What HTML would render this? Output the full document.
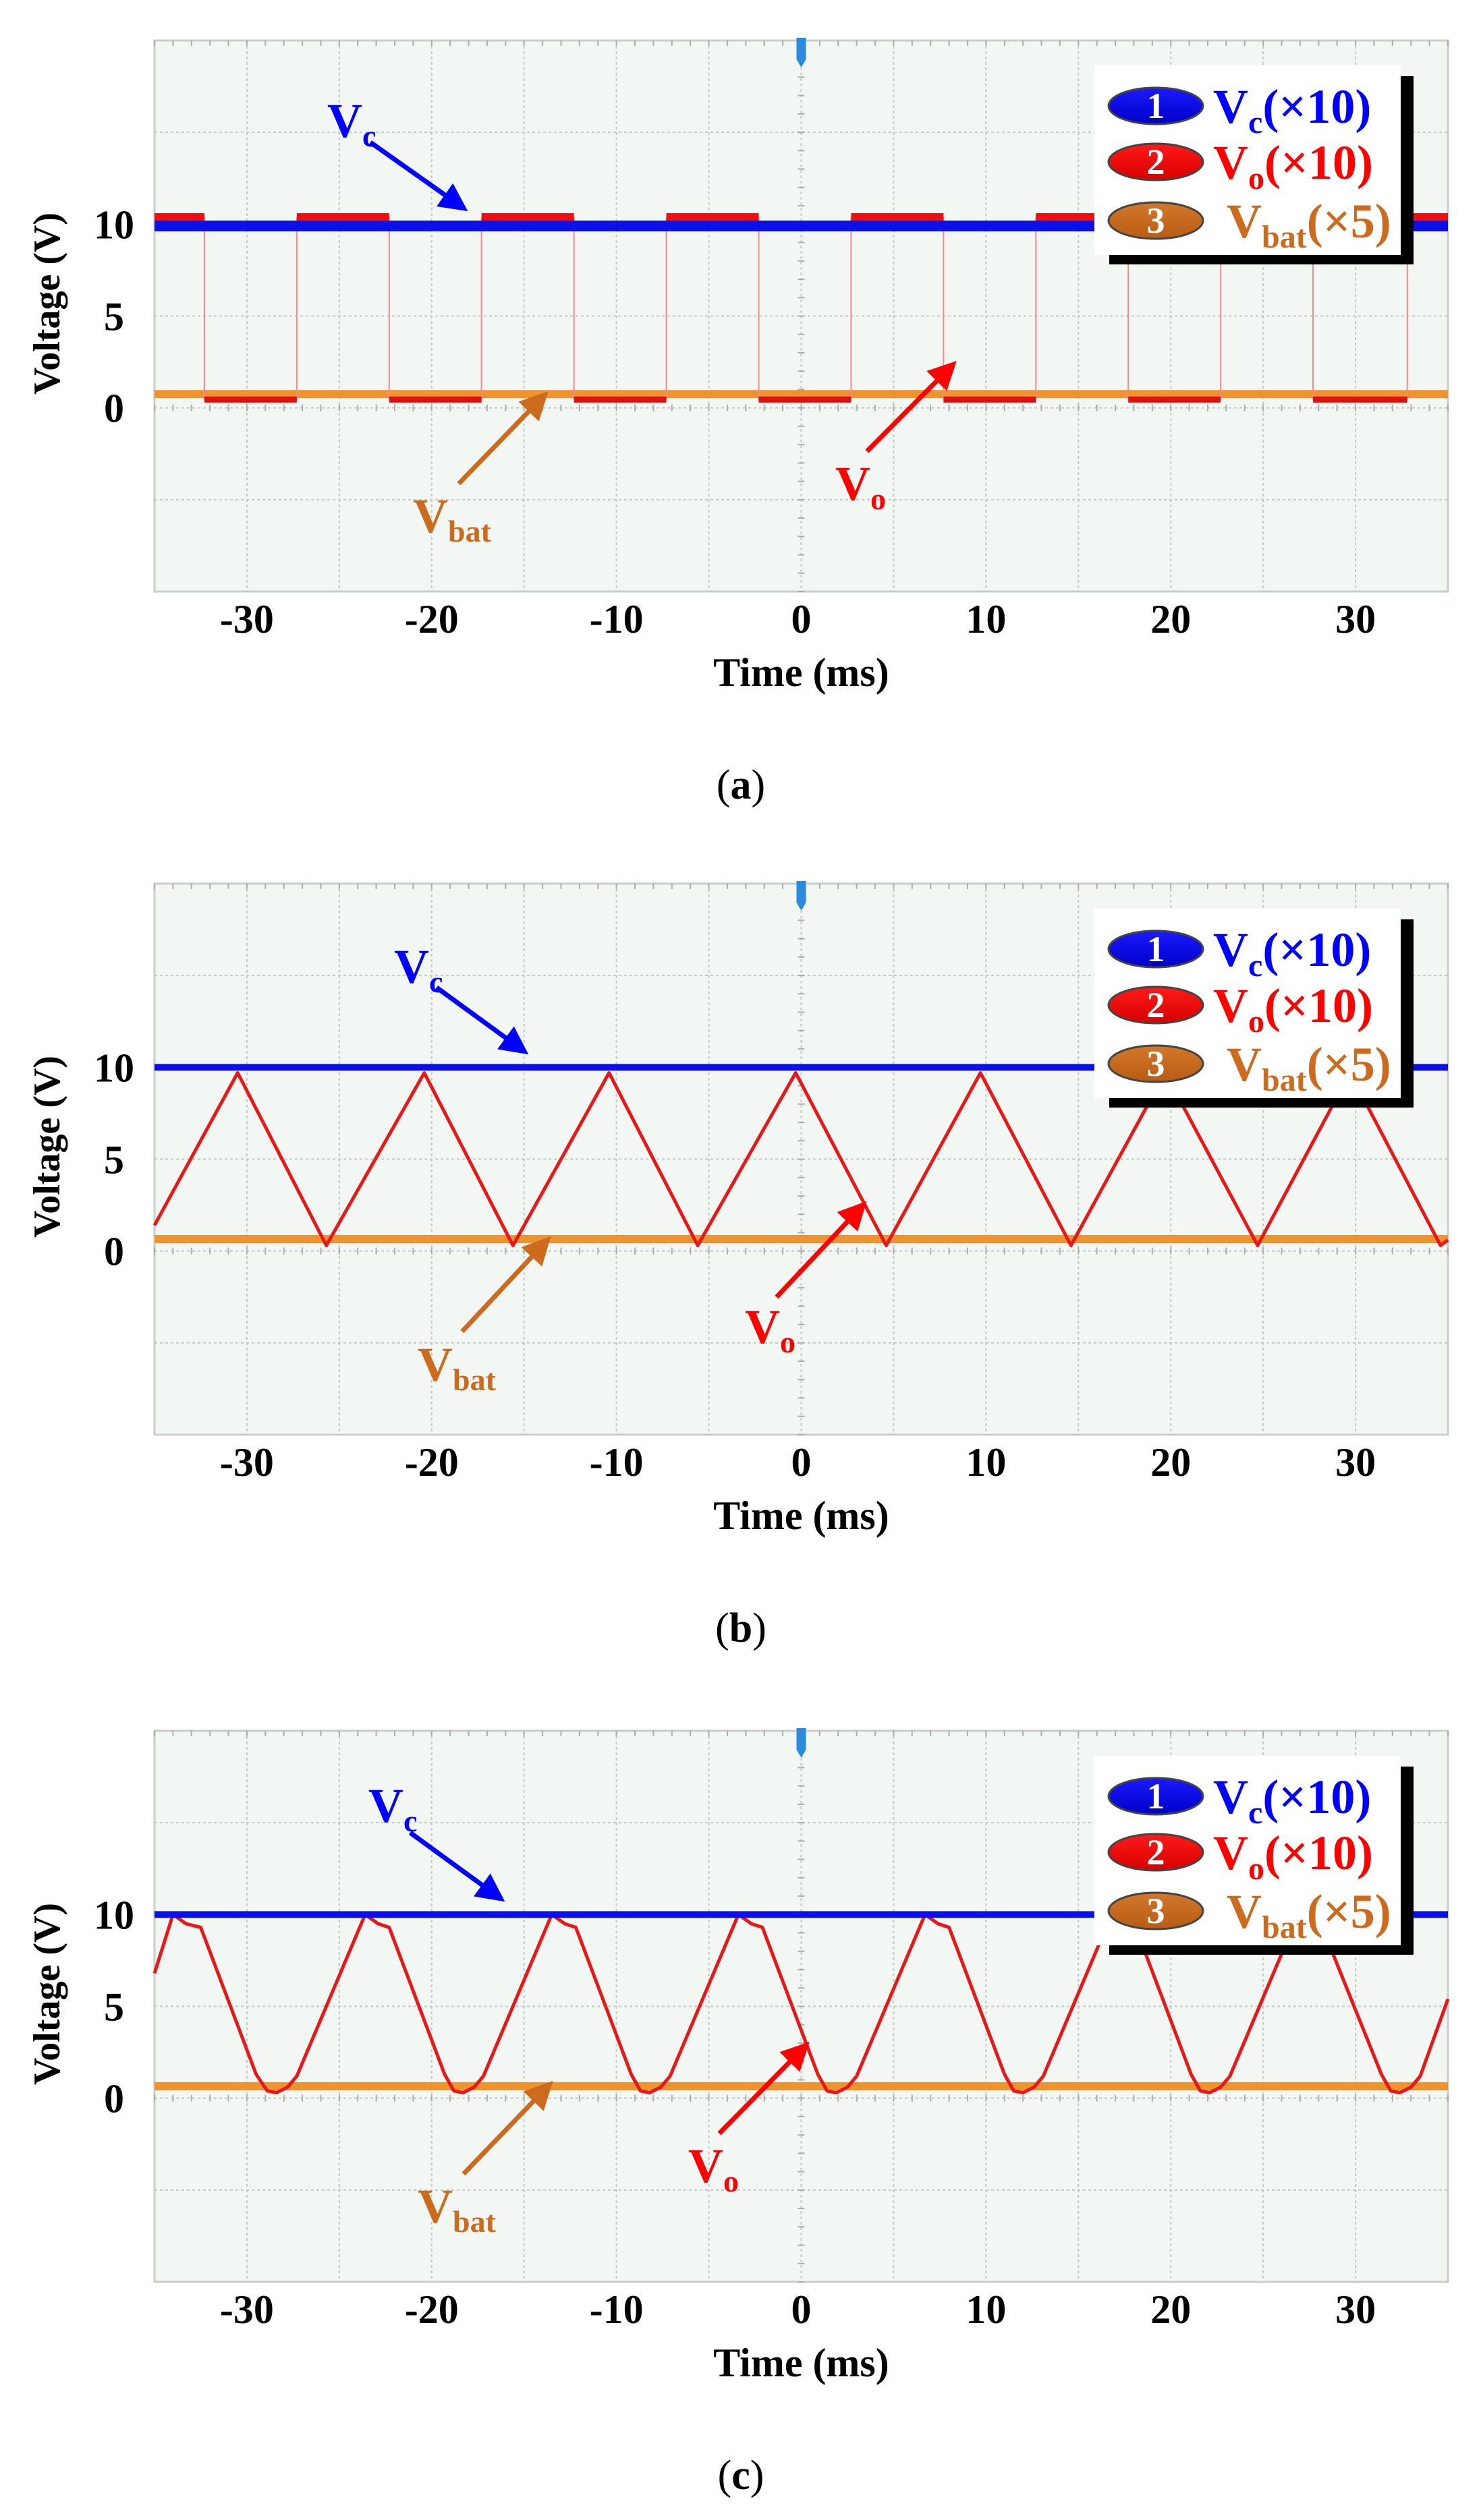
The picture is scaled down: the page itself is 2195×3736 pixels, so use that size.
<!DOCTYPE html>
<html><head><meta charset="utf-8">
<style>
html,body{margin:0;padding:0;background:#fff;}
svg{display:block;}
text{font-family:"Liberation Serif","Times New Roman",serif;}
</style></head>
<body>
<svg id="fig" width="2195" height="3736" viewBox="0 0 2195 3736" xmlns="http://www.w3.org/2000/svg">
<defs>
<marker id="ahB" markerWidth="6" markerHeight="6" refX="4" refY="3" orient="auto" markerUnits="strokeWidth"><path d="M0,0 L6,3 L0,6 z" fill="#0000ff"/></marker>
<marker id="ahR" markerWidth="6" markerHeight="6" refX="4" refY="3" orient="auto" markerUnits="strokeWidth"><path d="M0,0 L6,3 L0,6 z" fill="#ff0000"/></marker>
<marker id="ahO" markerWidth="6" markerHeight="6" refX="4" refY="3" orient="auto" markerUnits="strokeWidth"><path d="M0,0 L6,3 L0,6 z" fill="#cc6a1e"/></marker>
<linearGradient id="gB" x1="0" y1="0" x2="0" y2="1"><stop offset="0" stop-color="#1a1aff"/><stop offset="1" stop-color="#0000c8"/></linearGradient>
<linearGradient id="gR" x1="0" y1="0" x2="0" y2="1"><stop offset="0" stop-color="#ff1a1a"/><stop offset="1" stop-color="#d80000"/></linearGradient>
<linearGradient id="gO" x1="0" y1="0" x2="0" y2="1"><stop offset="0" stop-color="#d2782a"/><stop offset="1" stop-color="#b85c14"/></linearGradient>
</defs>
</svg>
<script>
// ---- shared axis data ----
const xTicks = [-30,-20,-10,0,10,20,30];
const yTicks = [0,5,10];
const panelLabels = ['(a)','(b)','(c)'];
// DC levels per panel
const vcLevel = [9.9, 10.0, 10.0];
const vbatLevel = [0.75, 0.65, 0.65];
// Panel (a): square-wave Vo
const aFall = [-32.3,-22.3,-12.3,-2.3,7.7,17.7,27.7];
const aRise = [-27.3,-17.3,-7.3,2.7,12.7,22.7,32.8];
const aHigh = 10.4;
const aLow = 0.45;
// Panel (b): triangular Vo vertices
const bTime = [-35.1,-30.5,-25.7,-20.4,-15.6,-10.4,-5.6,-0.3,4.6,9.7,14.6,19.7,24.7,29.7,34.6,35.0];
const bVolt = [1.4,9.7,0.3,9.7,0.3,9.7,0.3,9.7,0.3,9.7,0.3,9.7,0.3,9.7,0.3,0.6];
// Panel (c): clipped sinusoid-like Vo
const cTime = [-35.1,-34.0,-33.3,-32.5,-29.5,-28.9,-28.4,-27.8,-27.3,-23.6,-22.9,-22.3,-19.3,-18.8,-18.3,-17.7,-17.2,-13.5,-12.8,-12.2,-9.2,-8.7,-8.2,-7.6,-7.1,-3.4,-2.7,-2.1,0.9,1.4,1.9,2.5,3.0,6.7,7.4,8.0,11.0,11.5,12.0,12.6,13.1,16.8,17.5,18.1,21.1,21.6,22.1,22.7,23.2,26.9,27.6,28.2,31.4,31.9,32.4,33.0,33.5,35.0];
const cVolt = [6.8,10.0,9.5,9.3,1.3,0.4,0.3,0.6,1.2,10.0,9.5,9.3,1.3,0.4,0.3,0.6,1.2,10.0,9.5,9.3,1.3,0.4,0.3,0.6,1.2,10.0,9.5,9.3,1.3,0.4,0.3,0.6,1.2,10.0,9.5,9.3,1.3,0.4,0.3,0.6,1.2,10.0,9.5,9.3,1.3,0.4,0.3,0.6,1.2,10.0,9.5,9.3,1.3,0.4,0.3,0.6,1.2,5.4];

const NS='http://www.w3.org/2000/svg';
const svg=document.getElementById('fig');
const X0=229, X1=2146, XMIN=-35, XMAX=35;
const PH=817, VMIN=-10, VMAX=20;
const tops=[60,1310,2566];
function mk(tag,attrs,parent){const e=document.createElementNS(NS,tag);for(const k in attrs)e.setAttribute(k,attrs[k]);(parent||svg).appendChild(e);return e;}
function sx(t){return X0+(t-XMIN)/(XMAX-XMIN)*(X1-X0);}

const annot=[
 {vc:[485,203,549,211,682,305],vb:[612,789,680,717,803,590],vo:[1238,741,1285,669,1408,545]},
 {vc:[584,1457,647,1464,772,1555],vb:[619,2047,685,1974,807,1843],vo:[1104,1991,1151,1923,1275,1791]},
 {vc:[546,2701,608,2717,737,2811],vb:[619,3295,687,3223,810,3095],vo:[1020,3235,1066,3163,1190,3037]}
];

for(let p=0;p<3;p++){
  const T=tops[p];
  const sy=v=>T+(VMAX-v)/(VMAX-VMIN)*PH;
  const g=mk('g',{});
  
  
  const bg=mk('rect',{x:X0,y:T,width:X1-X0,height:PH,fill:'#f3f7f3',stroke:'#c8cec8','stroke-width':3},g);
  
  
  for(let t=-30;t<=30;t+=5){
    const l=mk('line',{x1:sx(t),x2:sx(t),y1:T,y2:T+PH,stroke:'#c2c8c2','stroke-width':2,'stroke-dasharray':'4 4'},g);
    
    
  }
  for(let k=1;k<6;k++){
    const y=T+k*PH/6;
    const l=mk('line',{x1:X0,x2:X1,y1:y,y2:y,stroke:'#c2c8c2','stroke-width':2,'stroke-dasharray':'4 4'},g);
    
    
  }
  for(let t=-35;t<=35;t+=1){
    mk('line',{x1:sx(t),x2:sx(t),y1:sy(0)-5,y2:sy(0)+5,stroke:'#a8aea8','stroke-width':2},g);
    mk('line',{x1:sx(t),x2:sx(t),y1:T,y2:T+8,stroke:'#a8aea8','stroke-width':2},g);
  }
  for(let v=-10;v<=20;v+=1){
    mk('line',{x1:sx(0)-5,x2:sx(0)+5,y1:sy(v),y2:sy(v),stroke:'#a8aea8','stroke-width':2},g);
  }
  const trig=mk('path',{d:`M${sx(0)-7},${T-4} L${sx(0)+7},${T-4} L${sx(0)+7},${T+28} L${sx(0)},${T+40} L${sx(0)-7},${T+28} z`,fill:'#2a8ae0'},g);
  
  

  const vb=mk('line',{x1:X0,x2:X1,y1:sy(vbatLevel[p]),y2:sy(vbatLevel[p]),stroke:'#f0922e','stroke-width':12},g);
  
  

  if(p===0){
    let d='';
    for(let i=0;i<aFall.length;i++){
      const x=sx(aFall[i]);
      d+=`M${x},${sy(aHigh)} L${x},${sy(aLow)} `;
      const x2=sx(aRise[i]);
      d+=`M${x2},${sy(aLow)} L${x2},${sy(aHigh)} `;
    }
    const e=mk('path',{d:d,stroke:'#f08a8a','stroke-width':2,fill:'none'},g);
    
    
    const hs=[XMIN].concat(aRise), he=aFall.concat([XMAX]);
    for(let i=0;i<hs.length;i++){
      const s=mk('line',{x1:sx(hs[i]),x2:sx(he[i]),y1:sy(aHigh),y2:sy(aHigh),stroke:'#ee1010','stroke-width':11},g);
      
      
    }
    for(let i=0;i<aFall.length;i++){
      const s=mk('line',{x1:sx(aFall[i]),x2:sx(aRise[i]),y1:sy(aLow),y2:sy(aLow),stroke:'#e01010','stroke-width':9},g);
      
      
    }
  } else {
    const tt=p===1?bTime:cTime, vv=p===1?bVolt:cVolt;
    let d='';
    for(let i=0;i<tt.length;i++){const x=Math.min(Math.max(sx(tt[i]),X0),X1);d+=(i?'L':'M')+x+','+sy(vv[i])+' ';}
    const e=mk('path',{d:d,stroke:'#e81818','stroke-width':5,fill:'none','stroke-linejoin':'round'},g);
    
    
  }
  const vc=mk('line',{x1:X0,x2:X1,y1:sy(vcLevel[p]),y2:sy(vcLevel[p]),stroke:'#0a10e8','stroke-width':p===0?16:10},g);
  
  

  for(const v of yTicks){
    const t=mk('text',{x:169,y:sy(v)+21,'font-size':60,'font-weight':'bold','text-anchor':'middle',fill:'#000'},g);
    t.textContent=v;
    
    
  }
  const yl=mk('text',{x:0,y:0,'font-size':56,'font-weight':'bold','text-anchor':'middle',fill:'#000',transform:`translate(88,${T+390}) rotate(-90)`},g);
  yl.textContent='Voltage (V)';
  
  
  for(const t of xTicks){
    const e=mk('text',{x:sx(t),y:T+878,'font-size':60,'font-weight':'bold','text-anchor':'middle',fill:'#000'},g);
    e.textContent=t;
    
    
  }
  const xl=mk('text',{x:sx(0),y:T+957,'font-size':60,'font-weight':'bold','text-anchor':'middle',fill:'#000'},g);
  xl.textContent='Time (ms)';
  
  
  const pl=mk('text',{x:1098,y:T+1124,'font-size':62,'text-anchor':'middle',fill:'#000'},g);
  pl.innerHTML='(<tspan font-weight="bold">'+'abc'[p]+'</tspan>)';
  
  

  const LY=T+37;
  const lg=mk('g',{},g);
  
  
  mk('rect',{x:1644,y:LY+16,width:451,height:279,fill:'#000'},lg);
  mk('rect',{x:1622,y:LY,width:454,height:281,fill:'#fff'},lg);
  const items=[{n:'1',fill:'url(#gB)',col:'#0000ff',main:'V',sub:'c',tail:'(×10)'},{n:'2',fill:'url(#gR)',col:'#ff0000',main:'V',sub:'o',tail:'(×10)'},{n:'3',fill:'url(#gO)',col:'#cc6a1e',main:'V',sub:'bat',tail:'(×5)'}];
  const rows=[60,143,230];
  for(let i=0;i<3;i++){
    const cy=LY+rows[i];
    const it=items[i];
    const ent=mk('g',{},lg);
    
    
    mk('ellipse',{cx:1713,cy:cy,rx:70,ry:27,fill:it.fill,stroke:'#444','stroke-width':3},ent);
    const n=mk('text',{x:1713,y:cy+18,'font-size':54,'font-weight':'bold','text-anchor':'middle',fill:'#fff'},ent);
    n.textContent=it.n;
    const lt=mk('text',{x:i===2?1818:1798,y:cy+25,'font-size':72,'font-weight':'bold',fill:it.col},ent);
    lt.innerHTML=it.main+'<tspan font-size="48" dy="15">'+it.sub+'</tspan><tspan dy="-15">'+it.tail+'</tspan>';
  }

  const A=annot[p];
  const defs=[['vc','#0000ff','ahB','c'],['vb','#cc6a1e','ahO','bat'],['vo','#ff0000','ahR','o']];
  for(const [k,col,mid,sub] of defs){
    const a=A[k];
    const lab=mk('text',{x:a[0],y:a[1],'font-size':72,'font-weight':'bold',fill:col},g);
    lab.innerHTML='V<tspan font-size="46" dy="14">'+sub+'</tspan>';
    
    
    const ar=mk('line',{x1:a[2],y1:a[3],x2:a[4],y2:a[5],stroke:col,'stroke-width':7,'marker-end':`url(#${mid})`},g);
    
    
  }
}
</script>
</body></html>
